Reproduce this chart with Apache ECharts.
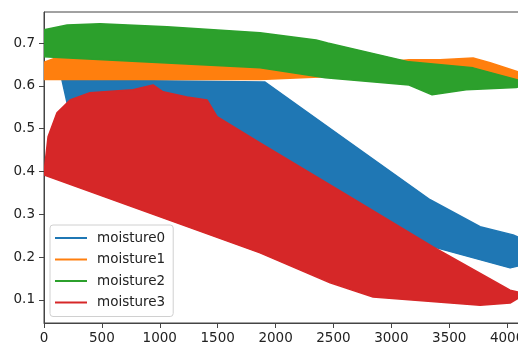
<!DOCTYPE html>
<html><head><meta charset="utf-8">
<script src="https://cdn.jsdelivr.net/npm/echarts@6/dist/echarts.min.js"></script>
<style>html,body{margin:0;padding:0;background:#fff}#c{width:518px;height:345px}</style>
</head><body><div id="c"></div>
<script>
const seriesNames = ['moisture0', 'moisture1', 'moisture2', 'moisture3'];
const xTicks = [0, 500, 1000, 1500, 2000, 2500, 3000, 3500, 4000];
const yTicks = [0.1, 0.2, 0.3, 0.4, 0.5, 0.6, 0.7];

// outline of the area swept by each zig-zagging series (x, y)
const moisture0X = [155, 1909, 2644, 3335, 3767, 4052, 4100, 4100, 4026, 3361, 2000, 1000, 207];
const moisture0Y = [0.614, 0.609, 0.467, 0.334, 0.271, 0.252, 0.246, 0.180, 0.175, 0.224, 0.350, 0.450, 0.551];

const moisture1X = [0, 100, 200, 1000, 1866, 2500, 3153, 3421, 3706, 3853, 4100, 4100, 3706, 3153, 2430, 1866, 0];
const moisture1Y = [0.655, 0.665, 0.668, 0.660, 0.645, 0.645, 0.661, 0.661, 0.665, 0.654, 0.632, 0.605, 0.615, 0.625, 0.621, 0.615, 0.615];

const moisture2X = [0, 200, 484, 1063, 1866, 2350, 2450, 3153, 3706, 4100, 4100, 4078, 3646, 3352, 3153, 2430, 1866, 0];
const moisture2Y = [0.731, 0.742, 0.745, 0.738, 0.724, 0.707, 0.700, 0.656, 0.642, 0.613, 0.598, 0.596, 0.591, 0.579, 0.602, 0.619, 0.642, 0.668];

const moisture3X = [0, 35, 112, 225, 397, 769, 942, 1028, 1235, 1408, 1495, 1866, 2644, 3361, 4026, 4100, 4100, 4026, 3767, 2842, 2471, 1866, 0];
const moisture3Y = [0.397, 0.481, 0.537, 0.567, 0.584, 0.591, 0.602, 0.586, 0.574, 0.567, 0.528, 0.467, 0.341, 0.224, 0.123, 0.118, 0.105, 0.093, 0.088, 0.107, 0.140, 0.210, 0.392];

const colors = ['#1f77b4', '#ff7f0e', '#2ca02c', '#d62728'];
const outlines = [[moisture0X, moisture0Y], [moisture1X, moisture1Y], [moisture2X, moisture2Y], [moisture3X, moisture3Y]];

function polyRender(xs, ys, color) {
  return function (params, api) {
    if (params.dataIndex !== 0) return null;
    const pts = xs.map((x, i) => api.coord([x, ys[i]]));
    return { type: 'polygon', shape: { points: pts }, style: { fill: color, stroke: color, lineWidth: 1.5, lineJoin: 'round' } };
  };
}

const font = 'DejaVu Sans';
const chart = echarts.init(document.getElementById('c'));
chart.setOption({
  animation: false,
  grid: { left: 44, top: 12, width: 477, height: 311, show: true, borderColor: '#444', borderWidth: 1, backgroundColor: 'transparent', containLabel: false, outerBoundsMode: 'none' },
  legend: {
    orient: 'vertical', left: 50, top: 225,
    itemWidth: 32, itemHeight: 2, itemGap: 5.5,
    padding: [5, 8, 6, 5],
    backgroundColor: 'rgba(255,255,255,0.8)', borderColor: '#d0d0d0', borderWidth: 1, borderRadius: 3,
    textStyle: { fontFamily: font, fontSize: 13.5, color: '#222', lineHeight: 16, padding: [0, 0, 0, 5] },
    data: seriesNames.map((n, i) => ({ name: n, icon: 'rect', itemStyle: { color: colors[i] } }))
  },
  xAxis: {
    type: 'value', min: 0, max: 4120,
    splitLine: { show: false },
    axisLine: { onZero: false, lineStyle: { color: '#444', width: 1 } },
    axisTick: { show: true, length: 5, lineStyle: { color: '#444' }, customValues: xTicks },
    axisLabel: { fontFamily: font, fontSize: 13.5, color: '#222', margin: 8, customValues: xTicks, formatter: v => String(v) }
  },
  yAxis: {
    type: 'value', min: 0.0463, max: 0.7724,
    splitLine: { show: false },
    axisLine: { show: true, onZero: false, lineStyle: { color: '#444', width: 1 } },
    axisTick: { show: true, length: 5, lineStyle: { color: '#444' }, customValues: yTicks },
    axisLabel: { fontFamily: font, fontSize: 13.5, color: '#222', margin: 9, customValues: yTicks, formatter: v => v.toFixed(1) }
  },
  series: outlines.map((o, i) => ({
    name: seriesNames[i],
    type: 'custom',
    clip: true,
    itemStyle: { color: colors[i] },
    data: o[0].map((x, j) => [x, o[1][j]]),
    renderItem: polyRender(o[0], o[1], colors[i])
  }))
});
</script>
</body></html>
